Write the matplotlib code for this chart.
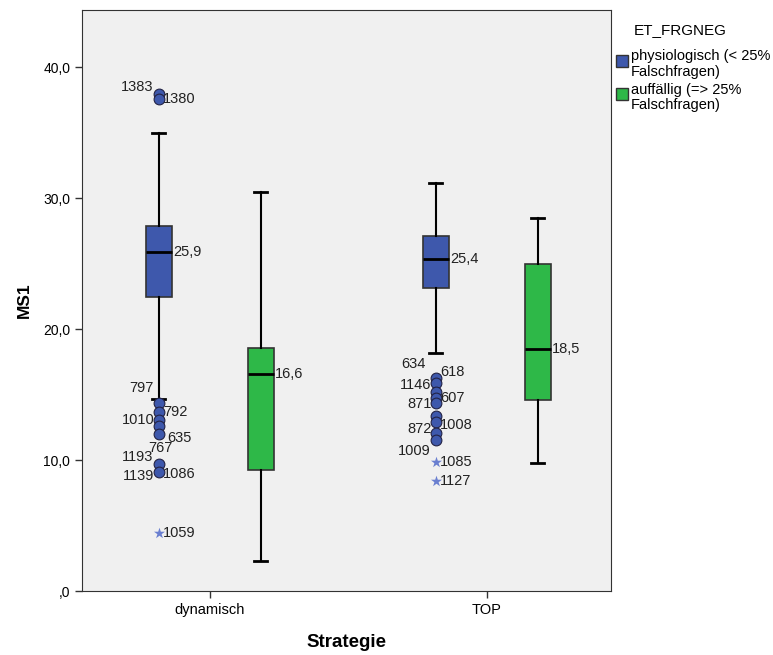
import matplotlib
matplotlib.use("Agg")
import matplotlib.pyplot as plt
from matplotlib.patches import Rectangle

plt.rcParams['font.family'] = ['Liberation Sans', 'DejaVu Sans']

# data
strategies = ["dynamisch", "TOP"]
groups = ["physiologisch (< 25%\nFalschfragen)", "auffällig (=> 25%\nFalschfragen)"]
colors = ["#3E58AC", "#2EB848"]

# per strategy, per group: [whislo, q1, med, q3, whishi]
stats_phys = [[14.7, 22.5, 25.9, 27.9, 35.0],
              [18.2, 23.2, 25.4, 27.1, 31.2]]
stats_auff = [[2.3, 9.3, 16.6, 18.6, 30.5],
              [9.8, 14.6, 18.5, 25.0, 28.5]]
median_labels = [["25,9", "16,6"], ["25,4", "18,5"]]

# outliers (circles) of the blue group
out_dyn = [38.0, 37.6, 14.4, 13.7, 13.1, 12.6, 12.0, 9.7, 9.1]
out_top = [16.3, 15.9, 15.2, 14.8, 14.4, 13.4, 12.9, 12.1, 11.6]
# extreme values (stars)
ext_dyn = [4.5]
ext_top = [9.9, 8.4]

# case labels: (value, text)
lab_dyn = [(38.0, "1383"), (37.6, "1380"), (14.4, "797"), (13.7, "792"),
           (13.1, "1010"), (12.0, "635"), (9.7, "767"), (9.7, "1193"),
           (9.1, "1139"), (9.1, "1086"), (4.5, "1059")]
lab_top = [(16.3, "634"), (16.3, "618"), (15.9, "1146"), (14.8, "607"),
           (14.4, "871"), (12.9, "872"), (12.9, "1008"), (11.6, "1009"),
           (9.9, "1085"), (8.4, "1127")]
# label offsets in points (dx, dy); small dx means centred
off_dyn = [(-4, 5), (3, 0), (-4, 11), (3, 0), (-3, 0), (6, -3), (1, 12),
           (-4, 5), (-3, -3), (3, -1), (3, 0)]
off_top = [(-7, 10), (3, 4), (-3, -1), (3, 0), (-3, -1), (-3, -5), (3, -2),
           (-4, -8), (3, 0), (3, 0)]

off = 0.184
bw = 0.094
fs = 10.5

fig = plt.figure(figsize=(7.73, 6.55), dpi=100)
ax = fig.add_axes([0.106, 0.097, 0.684, 0.888])
ax.set_facecolor("#F0F0F0")

def mk(s):
    return dict(whislo=s[0], q1=s[1], med=s[2], q3=s[3], whishi=s[4], fliers=[])

for gi, (st, col) in enumerate(zip([stats_phys, stats_auff], colors)):
    pos = [i + (gi * 2 - 1) * off for i in range(len(strategies))]
    ax.bxp([mk(s) for s in st], positions=pos, widths=bw, patch_artist=True,
           showfliers=False, capwidths=bw * 0.5,
           boxprops=dict(facecolor=col, edgecolor="#333333", linewidth=1.2),
           medianprops=dict(color="black", linewidth=2),
           whiskerprops=dict(color="black", linewidth=1.5),
           capprops=dict(color="black", linewidth=2), zorder=2)
    for i, s in enumerate(st):
        ax.annotate(median_labels[i][gi], (pos[i] + bw / 2, s[2]),
                    xytext=(1, 0), textcoords="offset points",
                    ha="left", va="center", fontsize=fs, color="#222222")

xs = [-off, 1 - off]
for x, outs, exts, labs, offs in [(xs[0], out_dyn, ext_dyn, lab_dyn, off_dyn),
                                  (xs[1], out_top, ext_top, lab_top, off_top)]:
    ax.scatter([x] * len(outs), outs, s=60, color=colors[0],
               edgecolor="#222244", linewidth=0.8, zorder=3)
    ax.scatter([x] * len(exts), exts, s=70, marker="*", color="#6A7FD0",
               linewidth=0, zorder=3)
    for (v, t), (dx, dy) in zip(labs, offs):
        ha = "center" if abs(dx) < 2 else ("left" if dx > 0 else "right")
        ax.annotate(t, (x, v), xytext=(dx, dy), textcoords="offset points",
                    ha=ha, va="center", fontsize=fs, color="#222222")

ax.set_xlim(-0.462, 1.448)
ax.set_ylim(0, 44.4)
ax.set_xticks(range(len(strategies)))
ax.set_xticklabels(strategies, fontsize=fs)
ax.set_yticks([0, 10, 20, 30, 40])
ax.set_yticklabels([",0", "10,0", "20,0", "30,0", "40,0"], fontsize=10)
ax.tick_params(length=5, width=1, color="#333333")
for sp in ax.spines.values():
    sp.set_color("#333333")
ax.set_xlabel("Strategie", fontsize=13.5, fontweight="bold", labelpad=12)
ax.set_ylabel("MS1", fontsize=12.5, fontweight="bold", labelpad=8)

# legend to the right of the plot
fig.text(0.880, 0.954, "ET_FRGNEG", fontsize=11, ha="center", va="center")
for k, (c, g) in enumerate(zip(colors, groups)):
    y0 = 0.898 - k * 0.051
    fig.patches.append(Rectangle((0.797, y0), 0.0155, 0.0183, facecolor=c,
                                 edgecolor="#333333", linewidth=1,
                                 transform=fig.transFigure, figure=fig))
    fig.text(0.816, y0 + 0.027, g, fontsize=fs, ha="left", va="top",
             linespacing=1.15)

fig.savefig("out.png", dpi=100)
